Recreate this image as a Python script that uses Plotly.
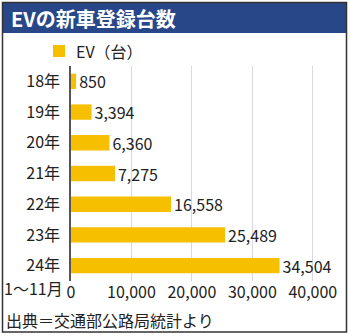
import plotly.graph_objects as go

categories = ["18年", "19年", "20年", "21年", "22年", "23年", "24年"]
values = [850, 3394, 6360, 7275, 16558, 25489, 34504]
value_labels = ["850", "3,394", "6,360", "7,275", "16,558", "25,489", "34,504"]
x_ticks = [0, 10000, 20000, 30000, 40000]
x_tick_labels = ["0", "10,000", "20,000", "30,000", "40,000"]

FONT = "Noto Sans CJK JP"
YELLOW = "#F6BF00"
NAVY = "#284789"

fig = go.Figure()
fig.add_trace(go.Bar(
    y=categories, x=values, orientation="h",
    marker=dict(color=YELLOW, line=dict(width=0)),
    width=0.5,
    text=value_labels, textposition="outside", cliponaxis=False,
    constraintext="none",
    textfont=dict(family=FONT, size=16, color="#222"),
    name="EV（台）", showlegend=False,
))

fig.update_layout(
    width=350, height=336,
    margin=dict(l=71, r=10, t=66, b=55),
    paper_bgcolor="white", plot_bgcolor="white",
    font=dict(family=FONT, size=16, color="#222"),
    xaxis=dict(range=[0, 44500], tickvals=x_ticks, ticktext=x_tick_labels,
               showgrid=True, gridcolor="#d9d9d9", gridwidth=1,
               zeroline=False, showline=False, ticks="",
               tickfont=dict(family=FONT, size=16, color="#222")),
    yaxis=dict(categoryorder="array", categoryarray=categories, autorange="reversed",
               showline=True, linecolor="#555", linewidth=1.5, ticks="",
               ticklabelstandoff=6,
               tickfont=dict(family=FONT, size=16, color="#222")),
)

# Convert pixel positions into paper coordinates
pw, ph = 350 - 71 - 10, 336 - 66 - 55
def px(x):
    return (x - 71) / pw
def py(y):
    return (336 - 55 - y) / ph

fig.add_shape(type="rect", xref="paper", yref="paper",
              x0=px(2.5), x1=px(346.5), y0=py(332), y1=py(2.5),
              line=dict(color="#333", width=1.5), fillcolor="rgba(0,0,0,0)", layer="above")
fig.add_shape(type="rect", xref="paper", yref="paper",
              x0=px(3), x1=px(346), y0=py(33), y1=py(3),
              line=dict(width=0), fillcolor=NAVY, layer="below")
fig.add_shape(type="rect", xref="paper", yref="paper",
              x0=px(53), x1=px(65), y0=py(57), y1=py(45),
              line=dict(width=0), fillcolor=YELLOW)

fig.add_annotation(text="<b>EVの新車登録台数</b>", xref="paper", yref="paper",
                   x=px(9), y=py(18), xanchor="left", yanchor="middle", showarrow=False,
                   font=dict(family=FONT, size=20, color="white"))
fig.add_annotation(text="EV（台）", xref="paper", yref="paper",
                   x=px(74), y=py(51), xanchor="left", yanchor="middle", showarrow=False,
                   font=dict(family=FONT, size=16, color="#222"))
fig.add_annotation(text="1〜11月", xref="paper", yref="paper",
                   x=px(2), y=py(288), xanchor="left", yanchor="middle", showarrow=False,
                   font=dict(family=FONT, size=16, color="#222"))
fig.add_annotation(text="出典＝交通部公路局統計より", xref="paper", yref="paper",
                   x=px(4), y=py(320), xanchor="left", yanchor="middle", showarrow=False,
                   font=dict(family=FONT, size=16, color="#222"))

fig.write_html("out.html")
